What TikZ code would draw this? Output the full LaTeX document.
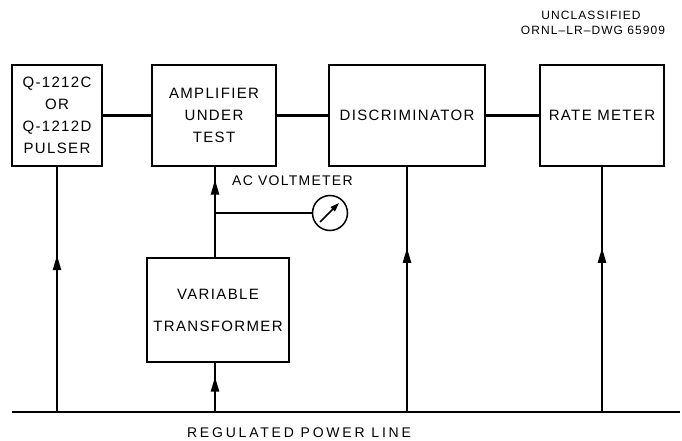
\documentclass[tikz,border=0pt]{standalone}
\usepackage{fontspec}
\setmainfont{Liberation Sans}[LetterSpace=9]
\usetikzlibrary{arrows.meta,decorations.markings}
\begin{document}
\begin{tikzpicture}[x=1pt,y=-1pt,
  wire/.style={line width=2.2pt},
  blk/.style={draw,line width=1.8pt,inner sep=0pt,font=\fontsize{15}{22}\selectfont,align=center},
  upmark/.style={postaction={decorate},decoration={markings,mark=at position #1 with {\arrow{Triangle[width=8pt,length=15pt]}}}},
  lbl/.style={font=\fontsize{14}{16}\selectfont,inner sep=0pt}]
\useasboundingbox (0,0) rectangle (682,441);
\node[blk,minimum width=90pt,minimum height=101pt] (pul) at (57,115.5) {Q-1212C\\OR\\Q-1212D\\PULSER};
\node[blk,minimum width=124pt,minimum height=101pt] (amp) at (214,115.5) {AMPLIFIER\\UNDER\\TEST};
\node[blk,minimum width=156pt,minimum height=101pt] (dis) at (407,115.5) {DISCRIMINATOR};
\node[blk,minimum width=124pt,minimum height=101pt] (rm) at (602,115.5) {RATE METER};
\node[blk,minimum width=142pt,minimum height=104pt] (vt) at (218,310) {VARIABLE\\[10pt]TRANSFORMER};
\node[draw,circle,line width=1.5pt,minimum size=35pt,inner sep=0pt] (vm) at (330,213) {};
\node[lbl,anchor=west] (acv) at (232,181) {AC VOLTMETER};
\node[lbl,font=\fontsize{12}{14}\selectfont] (unc) at (591,15) {UNCLASSIFIED};
\node[lbl,font=\fontsize{12}{14}\selectfont] (dwg) at (593,30) {ORNL--LR--DWG 65909};
\node[lbl,font=\addfontfeatures{LetterSpace=20}\fontsize{14}{16}\selectfont] (rpl) at (299,433) {REGULATED POWER LINE};
\coordinate (pl) at (12,412);
\coordinate (pr) at (680,412);
\coordinate (tap) at (215,213);
\draw[wire] (pl) -- (pr);
\draw[wire] (pul) -- (amp);
\draw[wire] (amp) -- (dis);
\draw[wire] (dis) -- (rm);
\draw[wire,upmark=0.64] (pul.south |- pl) -- (pul.south);
\draw[wire,upmark=0.67] (dis.south |- pl) -- (dis.south);
\draw[wire,upmark=0.67] (rm.south |- pl) -- (rm.south);
\draw[wire,upmark=0.72] (tap |- pl) -- (tap |- vt.south);
\draw[wire,upmark=0.86] (tap |- vt.north) -- (tap |- amp.south);
\draw[wire] (tap) -- (vm.west);
\draw[line width=1.5pt,-{Triangle[width=6pt,length=9pt]}] ([shift={(-10,9)}]vm.center) -- ([shift={(9,-10)}]vm.center);
\end{tikzpicture}
\end{document}
